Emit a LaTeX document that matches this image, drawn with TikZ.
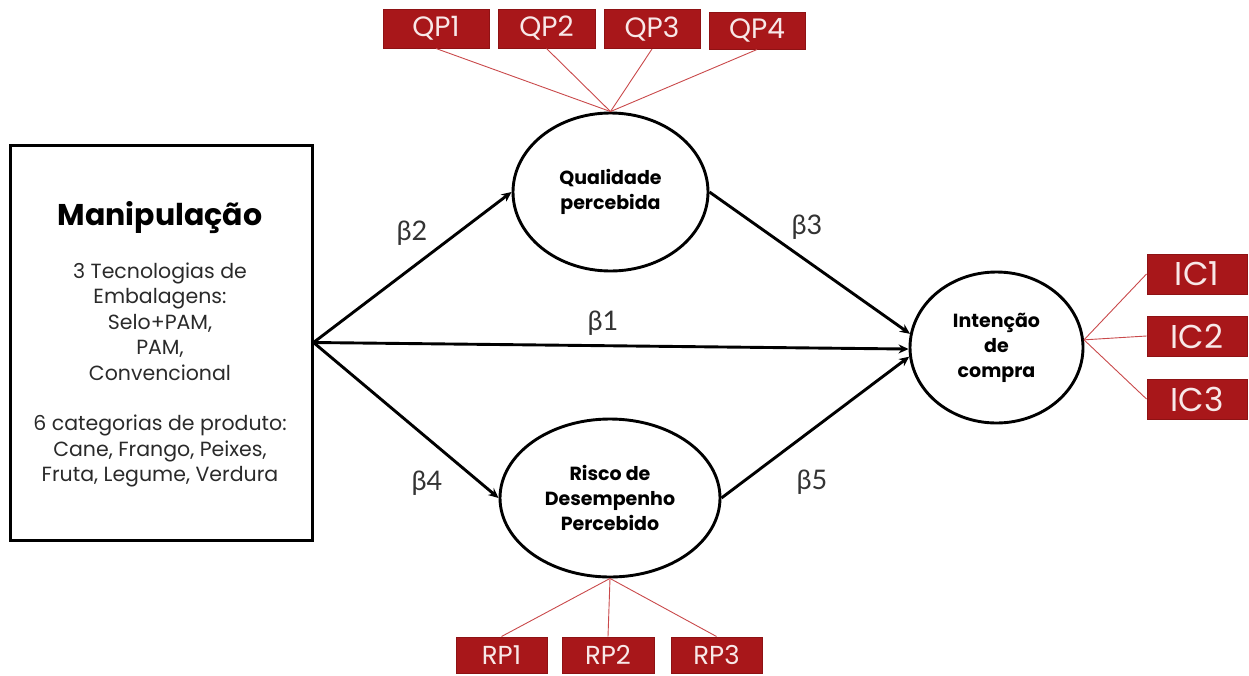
\documentclass[tikz,border=0pt]{standalone}
\usepackage{fontspec}
\setmainfont{Poppins}
\newfontfamily\betafont{Lato}
\usetikzlibrary{shapes.geometric,arrows.meta}
\definecolor{boxred}{HTML}{A8171A}
\definecolor{boxedge}{HTML}{8E1214}
\definecolor{linkred}{HTML}{C9494B}
\definecolor{txtwhite}{HTML}{F8E8E8}
\definecolor{bodygray}{HTML}{2A2A2A}
\begin{document}
\begin{tikzpicture}[x=1pt,y=-1pt,
  ind/.style={draw=boxedge, line width=1pt, fill=boxred, text=txtwhite, inner sep=0pt, anchor=center},
  lat/.style={draw, ellipse, line width=2.9pt, align=center, inner sep=0pt,
              font=\bfseries\fontsize{19}{25}\selectfont},
  arr/.style={line width=2.9pt, -{Stealth[length=10pt,width=9pt]}},
  load/.style={linkred, line width=0.9pt},
  beta/.style={font=\betafont\fontsize{27}{27}\selectfont, text=black!80}
]
\useasboundingbox (0,0) rectangle (1249,675);

% left manipulation box
\node[draw, line width=3pt, minimum width=302pt, minimum height=395pt, inner sep=0pt] (man) at (161,342.5) {};
\node (mantitle) at (160,218) {\bfseries\fontsize{30}{30}\selectfont Manipulação};
\node[align=center, text=bodygray, font=\fontsize{20.5}{25.4}\selectfont] (mantext) at (160,375)
  {3 Tecnologias de\\Embalagens:\\Selo+PAM,\\PAM,\\Convencional\\[25.4pt]6 categorias de produto:\\Cane, Frango, Peixes,\\Fruta, Legume, Verdura};

% latent variables
\node[lat, minimum width=195pt, minimum height=158pt] (qual) at (610.5,192) {Qualidade\\percebida};
\node[lat, minimum width=220pt, minimum height=158pt] (risk) at (610,498) {Risco de\\Desempenho\\Percebido};
\node[lat, minimum width=173pt, minimum height=151pt] (int) at (996.5,347.5) {Intenção\\de\\compra};

% indicators QP
\node[ind, minimum width=106pt, minimum height=39pt, font=\fontsize{28}{28}\selectfont] (qp1) at (436,28.5) {QP1};
\node[ind, minimum width=97pt, minimum height=39pt, font=\fontsize{28}{28}\selectfont] (qp2) at (546.5,28.5) {QP2};
\node[ind, minimum width=96pt, minimum height=39pt, font=\fontsize{28}{28}\selectfont] (qp3) at (652,29) {QP3};
\node[ind, minimum width=96pt, minimum height=37pt, font=\fontsize{28}{28}\selectfont] (qp4) at (757,30.5) {QP4};

% indicators IC
\node[ind, minimum width=100pt, minimum height=40pt, font=\fontsize{33}{33}\selectfont] (ic1) at (1197,274) {IC1};
\node[ind, minimum width=100pt, minimum height=40pt, font=\fontsize{33}{33}\selectfont] (ic2) at (1197,336) {IC2};
\node[ind, minimum width=100pt, minimum height=40pt, font=\fontsize{33}{33}\selectfont] (ic3) at (1197,399) {IC3};

% indicators RP
\node[ind, minimum width=91pt, minimum height=36pt, font=\fontsize{26}{26}\selectfont] (rp1) at (501.5,655) {RP1};
\node[ind, minimum width=92pt, minimum height=36pt, font=\fontsize{26}{26}\selectfont] (rp2) at (608,655) {RP2};
\node[ind, minimum width=91pt, minimum height=36pt, font=\fontsize{26}{26}\selectfont] (rp3) at (716.5,655) {RP3};

% loadings
\foreach \q in {qp1,qp2,qp3,qp4} \draw[load] (\q.south) -- (qual.north);
\foreach \r in {rp1,rp2,rp3} \draw[load] (risk.south) -- (\r.north);
\foreach \i in {ic1,ic2,ic3} \draw[load] (int.5) -- (\i.west);

% structural paths
\draw[arr] (man.east) -- (qual.west);
\draw[arr] (man.east) -- (risk.west);
\draw[arr] (man.east) -- (int.181);
\draw[arr] (qual.east) -- (int.171);
\draw[arr] (risk.east) -- (int.186);

% beta labels
\node[beta] (b1) at (603,323) {β1};
\node[beta] (b2) at (412,233) {β2};
\node[beta] (b3) at (807,227) {β3};
\node[beta] (b4) at (427,483) {β4};
\node[beta] (b5) at (812,482) {β5};
\end{tikzpicture}
\end{document}
